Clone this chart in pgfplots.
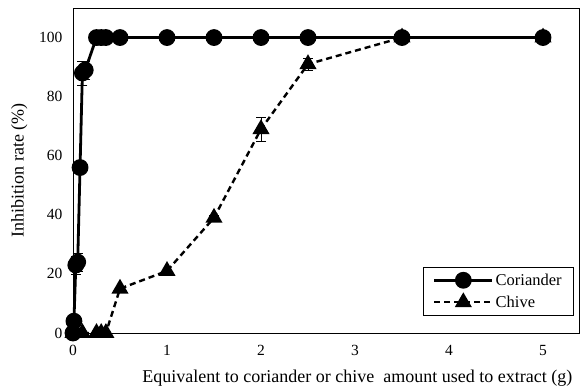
\documentclass[border=0pt]{standalone}
\usepackage{fontspec}
\setmainfont{Liberation Serif}
\usepackage{pgfplots}
\pgfplotsset{compat=1.18}
\begin{document}
\begin{tikzpicture}[x=1pt,y=1pt]
\useasboundingbox (-73,-54) rectangle (507,333);
\begin{axis}[
  at={(0,0)}, anchor=south west,
  scale only axis, width=506pt, height=325pt,
  xmin=0, xmax=5.383, ymin=0, ymax=110,
  xtick={0,1,2,3,4,5}, ytick={0,20,40,60,80,100},
  major tick length=0pt,
  axis line style={line width=0.9pt},
  clip=false,
  /pgf/number format/assume math mode=true,
  ticklabel style={font=\fontsize{15.5}{15.5}\selectfont},
  xticklabel style={yshift=-9pt},
  yticklabel style={xshift=-7pt},
  xlabel={Equivalent to coriander or chive~ amount used to extract (g)},
  ylabel={Inhibition rate (\%)},
  label style={font=\fontsize{18}{18}\selectfont},
  xlabel style={at={(axis description cs:0.562,0)}, anchor=north, yshift=-33pt},
  ylabel style={at={(axis description cs:0,0.5)}, anchor=south, yshift=42pt},
  legend style={at={(501/506,17/325)}, anchor=south east, draw=black, line width=0.6pt,
    font=\fontsize{16.5}{16.5}\selectfont, inner xsep=10pt, inner ysep=5pt, row sep=5pt},
  legend cell align=left,
  legend image code/.code={\draw[mark repeat=2,mark phase=2,#1] plot coordinates {(0pt,0pt) (29pt,0pt) (58pt,0pt)};},
]
\addplot[black, line width=2.8pt, mark=*, mark size=7pt, mark options={solid},
  error bars/.cd, y dir=both, y explicit, error bar style={line width=0.6pt}, error mark options={rotate=90, mark size=5pt, line width=0.6pt}]
coordinates {
(0,0) +- (0,0)
(0.01,4) +- (0,0)
(0.03,23) +- (0,3)
(0.05,24) +- (0,3)
(0.075,56) +- (0,0)
(0.1,88) +- (0,4)
(0.13,89) +- (0,3)
(0.25,100) +- (0,0)
(0.3,100) +- (0,0)
(0.35,100) +- (0,0)
(0.5,100) +- (0,0)
(1,100) +- (0,0)
(1.5,100) +- (0,0)
(2,100) +- (0,0)
(2.5,100) +- (0,0)
(3.5,100) +- (0,0)
(5,100) +- (0,0)
};
\addlegendentry{Coriander}
\addplot[black, line width=2.4pt, dash pattern=on 6pt off 4pt, mark=triangle*, mark size=7.5pt, mark options={solid},
  error bars/.cd, y dir=both, y explicit, error bar style={line width=0.6pt, solid}, error mark options={rotate=90, mark size=5pt, line width=0.6pt, solid}]
coordinates {
(0,0) +- (0,0)
(0.1,0) +- (0,0)
(0.25,0) +- (0,0)
(0.3,0) +- (0,0)
(0.35,0) +- (0,0)
(0.5,15) +- (0,0)
(1,21) +- (0,0)
(1.5,39) +- (0,1)
(2,69) +- (0,4)
(2.5,91) +- (0,2)
(3.5,100) +- (0,0)
(5,100) +- (0,0)
};
\addlegendentry{Chive}
\end{axis}
\end{tikzpicture}
\end{document}
